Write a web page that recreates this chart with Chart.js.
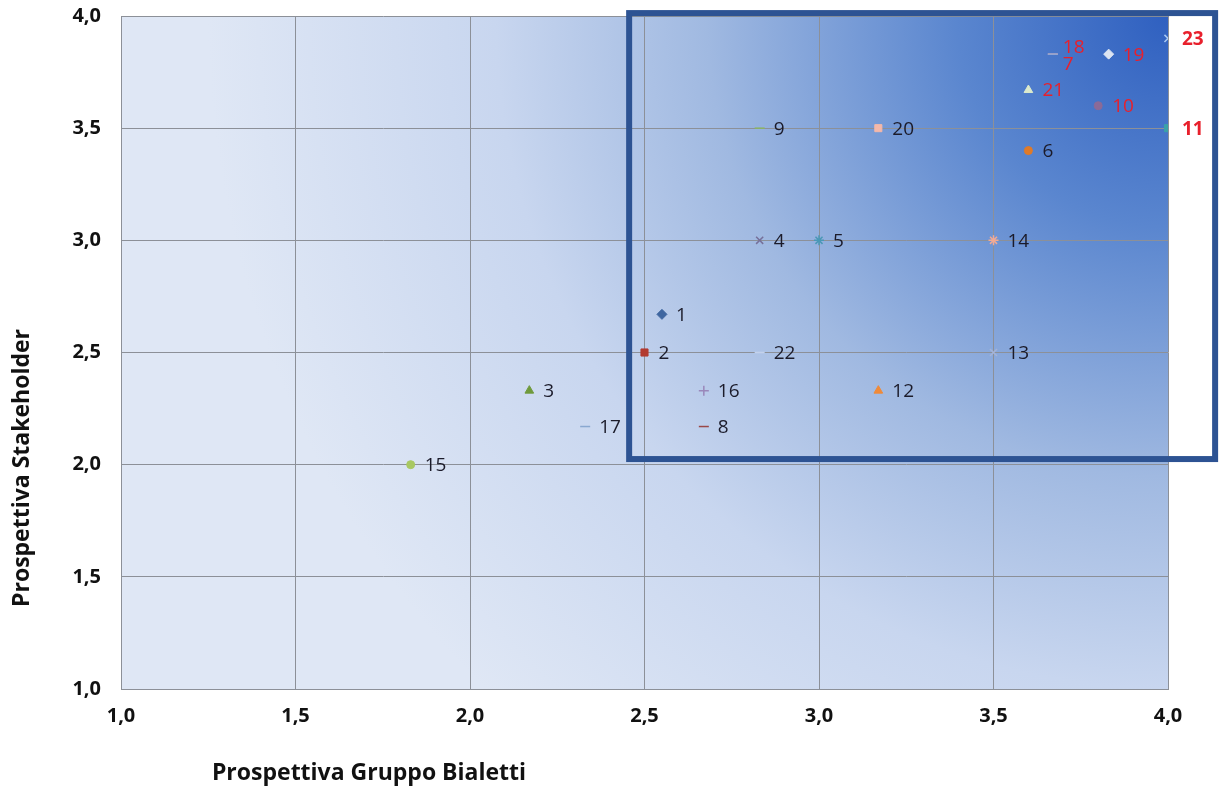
<!DOCTYPE html>
<html>
<head>
    <title>Prospettiva Gruppo Bialetti vs Stakeholder</title>
    <script src="https://cdn.jsdelivr.net/npm/chart.js"></script>
    <style>
        body { margin: 0; background: #fff; }
        #wrap { width: 1219px; height: 790px; }
    </style>
</head>
<body>
    <div id="wrap"><canvas id="matrix"></canvas></div>

    <script>
        // Data
        const pointLabels = ['1','2','3','4','5','6','7','8','9','10','11','12','13','14','15','16','17','18','19','20','21','22','23'];
        const bialetti    = [2.55, 2.50, 2.17, 2.83, 3.00, 3.60, 3.67, 2.67, 2.83, 3.80, 4.00, 3.17, 3.50, 3.50, 1.83, 2.67, 2.33, 3.67, 3.83, 3.17, 3.60, 2.83, 4.00];
        const stakeholder = [2.67, 2.50, 2.33, 3.00, 3.00, 3.40, 3.83, 2.17, 3.50, 3.60, 3.50, 2.33, 2.50, 3.00, 2.00, 2.33, 2.17, 3.83, 3.83, 3.50, 3.67, 2.50, 3.90];
        const axisTicks   = [1.0, 1.5, 2.0, 2.5, 3.0, 3.5, 4.0];

        // marker style per point (Excel default series cycle)
        const markers = ['rectRot','rect','triangle','crossRot','star','circle','line','line','line','circle','rect','triangle','crossRot','star','circle','cross','line','line','rectRot','rect','triangle','line','crossRot'];
        const colors  = ['#3f66a0','#b23a30','#6f9a3c','#76709a','#4a98b6','#e07a28','#8aa6d6','#9a4848','#8cb462','#8a6a98','#3aa2a8','#f08a38','#a4b4d8','#f2aa94','#a8c862','#9a88ba','#8aa8d0','#f2a4a0','#dce4f2','#f4b8aa','#dceacc','#c4d2ec','#a8c8f2'];
        const redLabels  = ['7','10','11','18','19','21','23'];
        const boldLabels = ['11','23'];

        // highlighted zone (in axis units)
        const zone = { x0: 2.456, x1: 4.135, y0: 2.025, y1: 4.013 };

        const fmt = v => v.toFixed(1).replace('.', ',');
        const FONT = 'Open Sans';

        const datasets = pointLabels.map((lab, i) => ({
            label: lab,
            data: [{ x: bialetti[i], y: stakeholder[i] }],
            pointStyle: markers[i],
            backgroundColor: colors[i],
            borderColor: colors[i],
            borderWidth: markers[i] === 'line' || markers[i].startsWith('cross') || markers[i] === 'star' ? 1.5 : 1,
            pointRadius: markers[i] === 'circle' ? 4 : 5
        }));

        // background gradient + white page
        const backgroundPlugin = {
            id: 'bg',
            beforeDraw(chart) {
                const { ctx, chartArea: a } = chart;
                ctx.save();
                ctx.fillStyle = '#fff';
                ctx.fillRect(0, 0, chart.width, chart.height);
                const g = ctx.createRadialGradient(a.right, a.top, 0, a.right, a.top, 960);
                g.addColorStop(0, '#2f60c0');
                g.addColorStop(0.22, '#5a86cf');
                g.addColorStop(0.48, '#a0b9e1');
                g.addColorStop(0.7, '#c8d6ef');
                g.addColorStop(1, '#dfe7f5');
                ctx.fillStyle = g;
                ctx.fillRect(a.left, a.top, a.right - a.left, a.bottom - a.top);
                ctx.restore();
            }
        };

        // number labels next to points, frame, axis titles
        const overlayPlugin = {
            id: 'overlay',
            afterDatasetsDraw(chart) {
                const { ctx, scales } = chart;
                ctx.save();

                // frame
                const fx0 = scales.x.getPixelForValue(zone.x0);
                const fx1 = scales.x.getPixelForValue(zone.x1);
                const fy0 = scales.y.getPixelForValue(zone.y1);
                const fy1 = scales.y.getPixelForValue(zone.y0);
                ctx.strokeStyle = '#2d5393';
                ctx.lineWidth = 6;
                ctx.strokeRect(fx0, fy0, fx1 - fx0, fy1 - fy0);

                // point labels
                ctx.textBaseline = 'middle';
                ctx.textAlign = 'left';
                chart.data.datasets.forEach((ds, i) => {
                    const el = chart.getDatasetMeta(i).data[0];
                    const lab = ds.label;
                    let dy = 1;
                    if (lab === '18') dy = -7;
                    if (lab === '7') dy = 10;
                    ctx.fillStyle = redLabels.includes(lab) ? '#e8202c' : '#1b1b2a';
                    ctx.font = (boldLabels.includes(lab) ? 'bold ' : '') + '19px "Open Sans"';
                    const dx = lab === '18' || lab === '7' ? 10 : 14;
                    ctx.fillText(lab, el.x + dx, el.y + dy);
                });

                // axis titles
                ctx.fillStyle = '#111';
                ctx.font = 'bold 23px "Open Sans"';
                ctx.textAlign = 'center';
                ctx.fillText('Prospettiva Gruppo Bialetti', 369, 773);
                ctx.translate(22, 468);
                ctx.rotate(-Math.PI / 2);
                ctx.fillText('Prospettiva Stakeholder', 0, 0);
                ctx.restore();
            }
        };

        const gridOpts = { color: '#8c9098', lineWidth: 1, drawTicks: false };
        const tickFont = { family: FONT, size: 20, weight: 'bold' };

        new Chart(document.getElementById('matrix'), {
            type: 'scatter',
            data: { datasets },
            options: {
                responsive: true,
                maintainAspectRatio: false,
                animation: false,
                layout: { padding: { left: 0, right: 51, top: 16, bottom: 0 } },
                plugins: {
                    legend: { display: false },
                    tooltip: { enabled: false }
                },
                scales: {
                    x: {
                        type: 'linear',
                        min: axisTicks[0],
                        max: axisTicks[axisTicks.length - 1],
                        afterBuildTicks: s => { s.ticks = axisTicks.map(v => ({ value: v })); },
                        afterFit: s => { s.height = 101; s.paddingLeft = 0; s.paddingRight = 0; },
                        ticks: { callback: v => fmt(v), color: '#111', font: tickFont, padding: 15, maxRotation: 0 },
                        grid: gridOpts,
                        border: { color: '#8c9098', width: 1 }
                    },
                    y: {
                        type: 'linear',
                        min: axisTicks[0],
                        max: axisTicks[axisTicks.length - 1],
                        afterBuildTicks: s => { s.ticks = axisTicks.map(v => ({ value: v })); },
                        afterFit: s => { s.width = 121; s.paddingTop = 0; s.paddingBottom = 0; },
                        ticks: { callback: v => fmt(v), color: '#111', font: tickFont, padding: 20 },
                        grid: gridOpts,
                        border: { color: '#8c9098', width: 1 }
                    }
                }
            },
            plugins: [backgroundPlugin, overlayPlugin]
        });
    </script>
</body>
</html>
